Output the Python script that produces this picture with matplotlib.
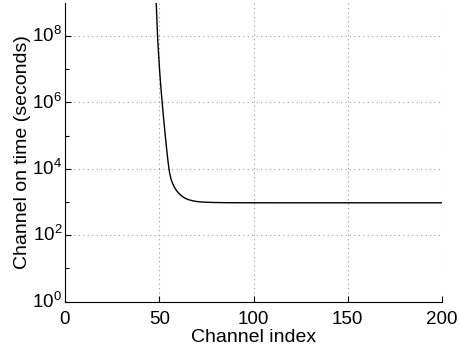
import matplotlib
matplotlib.use("Agg")
import matplotlib.pyplot as plt
from matplotlib.ticker import FixedLocator, NullFormatter

plt.rcParams['font.family'] = ['Liberation Sans', 'DejaVu Sans']
plt.rcParams['mathtext.fontset'] = 'custom'
plt.rcParams['mathtext.rm'] = 'Liberation Sans'
plt.rcParams['mathtext.it'] = 'Liberation Sans'
plt.rcParams['mathtext.bf'] = 'Liberation Sans'

# Values
channel_index = [48.4, 48.75, 49.1, 49.6, 50.15, 50.8, 51.55, 52.35, 53.2, 53.65,
                 54.1, 54.6, 55.15, 55.6, 56.2, 57.0, 58.0, 59.1, 60.2, 61.7,
                 63.5, 65.5, 67.8, 70.5, 74.0, 79.0, 86.0, 95.0, 110.0, 150.0, 200.0]
on_time = [1.0e9, 3.16e8, 1.0e8, 3.16e7, 1.0e7, 3.16e6, 1.0e6, 3.16e5, 1.0e5, 5.62e4,
           3.16e4, 1.78e4, 1.0e4, 7079, 5012, 3715, 2818, 2239, 1862, 1549,
           1318, 1175, 1084, 1023, 989, 966, 953, 948, 946, 946, 946]

x_ticks = [0, 50, 100, 150, 200]
x_tick_labels = ['0', '50', '100', '150', '200']
y_major = [1e0, 1e2, 1e4, 1e6, 1e8]
y_major_labels = [r'$\mathregular{10^{0}}$', r'$\mathregular{10^{2}}$', r'$\mathregular{10^{4}}$',
                  r'$\mathregular{10^{6}}$', r'$\mathregular{10^{8}}$']
y_minor = [1e1, 1e3, 1e5, 1e7]

fig = plt.figure(figsize=(4.6, 3.51), dpi=100)
ax = fig.add_axes([0.1413, 0.141, 0.8196, 0.8505])

ax.plot(channel_index, on_time, color='black', linewidth=1.0)
ax.set_yscale('log')
ax.set_xlim(0, 200)
ax.set_ylim(1e0, 1e9)

ax.set_xticks(x_ticks)
ax.set_xticklabels(x_tick_labels)
ax.yaxis.set_major_locator(FixedLocator(y_major))
ax.set_yticklabels(y_major_labels)
ax.yaxis.set_minor_locator(FixedLocator(y_minor))
ax.yaxis.set_minor_formatter(NullFormatter())

ax.tick_params(axis='both', which='major', direction='in', length=4, width=0.8,
               labelsize=13.5)
ax.tick_params(axis='x', which='major', pad=6.5)
ax.tick_params(axis='y', which='major', pad=2)
ax.tick_params(axis='y', which='minor', direction='in', length=3, width=0.8)
for lbl in ax.get_yticklabels():
    lbl.set_verticalalignment('center')

for s in ['top', 'right']:
    ax.spines[s].set_visible(False)
for s in ['left', 'bottom']:
    ax.spines[s].set_linewidth(0.8)

ax.grid(True, which='major', linestyle=(0, (1, 3)), color='#9a9a9a', linewidth=0.8)
ax.set_axisbelow(True)

ax.set_xlabel('Channel index', fontsize=14, labelpad=1)
ax.set_ylabel('Channel on time (seconds)', fontsize=14, labelpad=1)

fig.savefig('out.png', dpi=100)
